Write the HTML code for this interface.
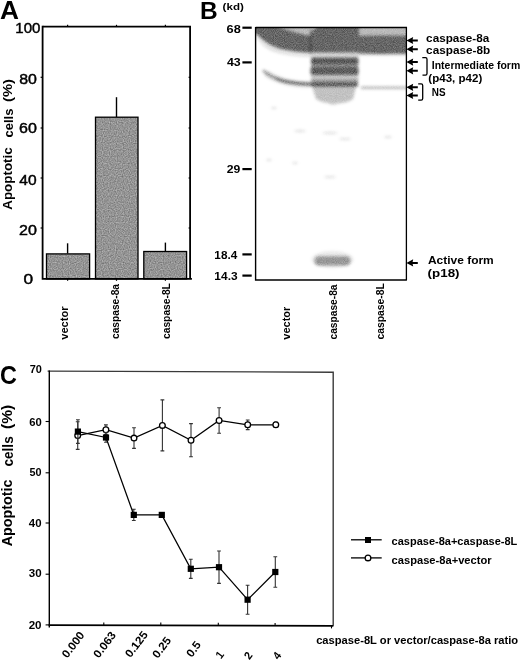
<!DOCTYPE html>
<html><head><meta charset="utf-8">
<style>
html,body{margin:0;padding:0;background:#fff;width:520px;height:661px;overflow:hidden}
svg{display:block;will-change:transform}
text{font-family:"Liberation Sans",sans-serif;fill:#000}
.b{font-weight:bold}
.r{stroke:#000;stroke-width:0.45px}
</style></head><body>
<svg width="520" height="661" viewBox="0 0 520 661">
<defs>
<filter id="gelf" color-interpolation-filters="sRGB" x="248" y="20" width="166" height="264" filterUnits="userSpaceOnUse">
<feGaussianBlur in="SourceGraphic" stdDeviation="1.4" result="b"/>
<feTurbulence type="fractalNoise" baseFrequency="1.1" numOctaves="1" seed="5" result="t"/>
<feColorMatrix in="t" type="matrix" values="0 0 0 0 0  0 0 0 0 0  0 0 0 0 0  0 0 0 1.3 -0.15" result="tn"/>
<feComposite in="b" in2="tn" operator="arithmetic" k1="0.5" k2="0.75" k3="0" k4="0"/>
</filter>

<clipPath id="gelclip"><rect x="255.6" y="27.5" width="150.8" height="252.5"/></clipPath>

<filter id="barn" color-interpolation-filters="sRGB" x="40" y="110" width="155" height="175" filterUnits="userSpaceOnUse">
<feTurbulence type="fractalNoise" baseFrequency="0.85" numOctaves="1" seed="11" result="t"/>
<feColorMatrix in="t" type="matrix" values="0 0 0 0.45 0.355  0 0 0 0.45 0.355  0 0 0 0.45 0.355  0 0 0 0 1" result="g"/>
<feComposite in="g" in2="SourceGraphic" operator="in"/>
</filter>
</defs>

<!-- ================= PANEL A ================= -->
<g fill="#939393" filter="url(#barn)">
<rect x="46.5" y="253.9" width="43.1" height="25"/>
<rect x="95.5" y="117.2" width="42.5" height="161.7"/>
<rect x="143.8" y="251.5" width="42.8" height="27.4"/>
</g>
<g stroke="#000" stroke-width="1.3" fill="none">
<rect x="46.5" y="253.9" width="43.1" height="25"/>
<rect x="95.5" y="117.2" width="42.5" height="161.7"/>
<rect x="143.8" y="251.5" width="42.8" height="27.4"/>
</g>
<g stroke="#000" stroke-width="1.4">
<line x1="67.6" y1="253.5" x2="67.6" y2="243.3"/>
<line x1="116.5" y1="117" x2="116.5" y2="97.2"/>
<line x1="165.4" y1="251" x2="165.4" y2="242.6"/>
</g>
<path d="M42.6 26.6 H190.1 V279" fill="none" stroke="#000" stroke-width="1.8"/>
<path d="M42.6 25.8 V278.9 H191.9" fill="none" stroke="#000" stroke-width="1.8"/>
<g stroke="#000" stroke-width="1.2">
<line x1="40.6" y1="77.3" x2="42.6" y2="77.3"/>
<line x1="40.6" y1="128" x2="42.6" y2="128"/>
<line x1="40.6" y1="178" x2="42.6" y2="178"/>
<line x1="40.6" y1="228" x2="42.6" y2="228"/>
<line x1="190.1" y1="77.3" x2="188.6" y2="77.3"/>
<line x1="190.1" y1="128" x2="188.6" y2="128"/>
<line x1="190.1" y1="178" x2="188.6" y2="178"/>
<line x1="190.1" y1="228" x2="188.6" y2="228"/>
<line x1="67.6" y1="26.6" x2="67.6" y2="24.8"/>
<line x1="116.5" y1="26.6" x2="116.5" y2="24.8"/>
<line x1="165.4" y1="26.6" x2="165.4" y2="24.8"/>
<line x1="67.6" y1="278.9" x2="67.6" y2="280.8"/>
<line x1="116.5" y1="278.9" x2="116.5" y2="280.8"/>
<line x1="165.4" y1="278.9" x2="165.4" y2="280.8"/>
</g>

<!-- ================= PANEL B ================= -->
<g stroke="#000" stroke-width="2.2">
<line x1="242.4" y1="27.7" x2="251.7" y2="27.7"/>
<line x1="242.4" y1="62.4" x2="251.7" y2="62.4"/>
<line x1="242.4" y1="169.1" x2="251.7" y2="169.1"/>
<line x1="242.4" y1="254.4" x2="251.7" y2="254.4"/>
<line x1="242.4" y1="275.6" x2="251.7" y2="275.6"/>
</g>
<g clip-path="url(#gelclip)"><g id="gel" filter="url(#gelf)">
<rect x="256" y="28" width="150" height="252" fill="#fff" fill-opacity="0.004"/>
<!-- lane 1 top: light top haze (right part) -->
<path d="M262 22 H311 V38 C296 34 280 29 262 22 Z" fill="#000" fill-opacity="0.27"/>
<!-- lane 1 dark curved band -->
<path d="M250 22 H264 C280 28.5 296 33.5 311 36.5 V53 C300 52.5 290 51.5 280 49 C272 46.5 265 42.5 260 37.5 C256 34 253 31 250 29 Z" fill="#000" fill-opacity="0.6"/>
<path d="M257 36 C263 43 272 48.5 285 51.5 C295 53.5 305 54.5 311 54.5 L311 57 C300 57 285 55.5 273 51.5 C265 48.5 260 43 257 38 Z" fill="#000" fill-opacity="0.12"/>
<!-- lane 1 NS curved band -->
<path d="M263 70.3 C268 75 277 79.5 287 81.8 C295 83.5 303 84.2 312 84.2" fill="none" stroke="#000" stroke-opacity="0.42" stroke-width="2.5"/>
<path d="M276 78.3 C280 80.2 283 81 287 81.8 C295 83.5 303 84.2 312 84.2" fill="none" stroke="#000" stroke-opacity="0.35" stroke-width="2.4"/>
<path d="M266 73 C278 81.5 292 84.5 310 84.5" fill="none" stroke="#000" stroke-opacity="0.1" stroke-width="7"/>
<!-- lane 2 -->
<path d="M316 22 H359 V52.5 H310 V34 C311 31 313 29 316 28 Z" fill="#000" fill-opacity="0.6"/>
<path d="M310 28 H316 C313 29 311 31 310 34 Z" fill="#000" fill-opacity="0.3"/>
<rect x="310" y="52" width="49" height="5" fill="#000" fill-opacity="0.15"/>
<rect x="311" y="57.5" width="47.5" height="7" rx="2" fill="#000" fill-opacity="0.66"/>
<rect x="311" y="64.5" width="47.5" height="2.5" fill="#000" fill-opacity="0.42"/>
<rect x="310.5" y="67" width="48" height="8" rx="2" fill="#000" fill-opacity="0.64"/>
<rect x="311" y="75" width="47.5" height="4.2" fill="#000" fill-opacity="0.2"/>
<rect x="311" y="79.2" width="47" height="4" fill="#000" fill-opacity="0.42"/>
<rect x="311" y="83" width="47" height="3.5" rx="1.5" fill="#000" fill-opacity="0.68"/>
<path d="M312 86.5 H356 L353 99 C345 105 325 105 316 99 Z" fill="#000" fill-opacity="0.24"/>
<rect x="314.5" y="256.3" width="36" height="9.2" rx="4.5" fill="#000" fill-opacity="0.36"/>
<ellipse cx="332.5" cy="259.5" rx="21" ry="8.5" fill="#000" fill-opacity="0.08"/>
<!-- lane 3 -->
<rect x="359" y="22" width="53" height="14.5" fill="#000" fill-opacity="0.27"/>
<path d="M359 36 C375 35.5 392 35.5 412 36 V53.5 C392 54 375 54 359 53.5 Z" fill="#000" fill-opacity="0.6"/>
<rect x="359" y="53" width="53" height="3" fill="#000" fill-opacity="0.08"/>
<path d="M361 87.8 H410" stroke="#000" stroke-opacity="0.28" stroke-width="2.6"/>
<!-- specks -->
<g fill="#000" fill-opacity="0.1">
<ellipse cx="274" cy="108" rx="3" ry="1.2"/>
<ellipse cx="300" cy="131" rx="6" ry="1.5"/>
<ellipse cx="330" cy="133" rx="8" ry="1.5"/>
<ellipse cx="345" cy="139" rx="6" ry="1.3"/>
<ellipse cx="388" cy="137" rx="4" ry="1.3"/>
<ellipse cx="269" cy="160" rx="3" ry="1.2"/>
<ellipse cx="295" cy="163" rx="3" ry="1.2"/>
<ellipse cx="330" cy="177" rx="6" ry="1.3"/>
<ellipse cx="333" cy="104" rx="4" ry="1"/>
</g>
</g></g>

<path d="M255.6 27.5 H406.4 V280" fill="none" stroke="#000" stroke-width="1.3"/>
<path d="M255.6 27 V280 H406.9" fill="none" stroke="#000" stroke-width="1.4"/>
<g fill="#000">
<path d="M406.40 40.50 L413.20 36.90 L412.60 39.50 H417.80 V41.50 H412.60 L413.20 44.10 Z"/>
<path d="M406.40 49.20 L413.20 45.60 L412.60 48.20 H417.80 V50.20 H412.60 L413.20 52.80 Z"/>
<path d="M406.40 62.10 L413.20 58.50 L412.60 61.10 H417.80 V63.10 H412.60 L413.20 65.70 Z"/>
<path d="M406.40 70.80 L413.20 67.20 L412.60 69.80 H417.80 V71.80 H412.60 L413.20 74.40 Z"/>
<path d="M406.40 87.30 L413.20 83.70 L412.60 86.30 H417.80 V88.30 H412.60 L413.20 90.90 Z"/>
<path d="M406.40 95.50 L413.20 91.90 L412.60 94.50 H417.80 V96.50 H412.60 L413.20 99.10 Z"/>
<path d="M406.40 262.90 L413.20 259.30 L412.60 261.90 H417.80 V263.90 H412.60 L413.20 266.50 Z"/>
</g>
<path d="M422.3 57.6 H425.5 Q427 57.6 427 59.2 V73.6 Q427 75.2 425.5 75.2 H422.5" fill="none" stroke="#000" stroke-width="1.3"/>
<path d="M418.2 83.9 H421.2 Q422.7 83.9 422.7 85.5 V98.5 Q422.7 100.1 421.2 100.1 H418.2" fill="none" stroke="#000" stroke-width="1.3"/>

<!-- ================= PANEL C ================= -->
<path d="M47.6 371.1 L333.2 372.2 V625.8" fill="none" stroke="#3a3a3a" stroke-width="1.4"/>
<path d="M49.3 370.4 V627.6" fill="none" stroke="#000" stroke-width="1.4"/>
<path d="M48.6 625.1 L333.4 625.8" fill="none" stroke="#000" stroke-width="1.8"/>
<g stroke="#000" stroke-width="1.1">
<line x1="45.6" y1="421.5" x2="49" y2="421.5"/>
<line x1="45.6" y1="472.8" x2="49" y2="472.8"/>
<line x1="45.6" y1="523" x2="49" y2="523"/>
<line x1="45.6" y1="574.2" x2="49" y2="574.2"/>
<line x1="45.6" y1="624.9" x2="49" y2="624.9"/>
<line x1="103.8" y1="625" x2="103.8" y2="622.4"/>
<line x1="160.8" y1="625.2" x2="160.8" y2="622.6"/>
<line x1="218.3" y1="625.4" x2="218.3" y2="622.8"/>
<line x1="275.1" y1="625.5" x2="275.1" y2="622.9"/>
<line x1="331.5" y1="625.8" x2="331.5" y2="628.4"/>
</g>
<path d="M77.7 421.8 V449.4 M75.8 421.8 h3.8 M75.8 449.4 h3.8 M105.9 424.9 V434.5 M104.0 424.9 h3.8 M104.0 434.5 h3.8 M134.0 427.8 V448.4 M132.1 427.8 h3.8 M132.1 448.4 h3.8 M162.4 399.9 V450.9 M160.5 399.9 h3.8 M160.5 450.9 h3.8 M191.0 423.6 V456.8 M189.1 423.6 h3.8 M189.1 456.8 h3.8 M219.1 407.8 V433.2 M217.2 407.8 h3.8 M217.2 433.2 h3.8 M247.7 420.0 V429.6 M245.8 420.0 h3.8 M245.8 429.6 h3.8 M275.8 422.3 V427.3 M273.9 422.3 h3.8 M273.9 427.3 h3.8" stroke="#333" stroke-width="1.1" fill="none"/>
<polyline points="77.7,435.6 105.9,429.7 134.0,438.1 162.4,425.4 191,440.2 219.1,420.5 247.7,424.8 275.8,424.8" fill="none" stroke="#000" stroke-width="1.25"/>
<g fill="#fff" stroke="#000" stroke-width="1.3">
<circle cx="77.7" cy="435.6" r="2.85"/>
<circle cx="105.9" cy="429.7" r="2.85"/>
<circle cx="134.0" cy="438.1" r="2.85"/>
<circle cx="162.4" cy="425.4" r="2.85"/>
<circle cx="191" cy="440.2" r="2.85"/>
<circle cx="219.1" cy="420.5" r="2.85"/>
<circle cx="247.7" cy="424.8" r="2.85"/>
<circle cx="275.8" cy="424.8" r="2.85"/>
</g>
<path d="M77.9 419.8 V443.4 M76.0 419.8 h3.8 M76.0 443.4 h3.8 M106.0 432.8 V442.2 M104.1 432.8 h3.8 M104.1 442.2 h3.8 M133.8 509.3 V520.5 M131.9 509.3 h3.8 M131.9 520.5 h3.8 M190.8 559.2 V578.4 M188.9 559.2 h3.8 M188.9 578.4 h3.8 M219.0 551.0 V583.4 M217.1 551.0 h3.8 M217.1 583.4 h3.8 M247.6 585.2 V614.2 M245.7 585.2 h3.8 M245.7 614.2 h3.8 M275.3 556.8 V587.2 M273.4 556.8 h3.8 M273.4 587.2 h3.8" stroke="#333" stroke-width="1.1" fill="none"/>
<polyline points="77.9,431.6 106,437.5 133.8,514.9 161.8,514.9 190.8,568.8 219,567.2 247.6,599.7 275.3,572" fill="none" stroke="#000" stroke-width="1.25"/>
<g fill="#000">
<rect x="74.80" y="428.50" width="6.2" height="6.2"/>
<rect x="102.90" y="434.40" width="6.2" height="6.2"/>
<rect x="130.70" y="511.80" width="6.2" height="6.2"/>
<rect x="158.70" y="511.80" width="6.2" height="6.2"/>
<rect x="187.70" y="565.70" width="6.2" height="6.2"/>
<rect x="215.90" y="564.10" width="6.2" height="6.2"/>
<rect x="244.50" y="596.60" width="6.2" height="6.2"/>
<rect x="272.20" y="568.90" width="6.2" height="6.2"/>
</g>
<line x1="351" y1="539.8" x2="381.7" y2="539.8" stroke="#000" stroke-width="1.3"/>
<rect x="365" y="537" width="6" height="6" fill="#000"/>
<line x1="351" y1="557.9" x2="381.7" y2="557.9" stroke="#000" stroke-width="1.3"/>
<circle cx="368" cy="557.9" r="2.85" fill="#fff" stroke="#000" stroke-width="1.3"/>

<!-- ================= TEXT ================= -->
<text class="b" x="0.11" y="18.87" font-size="25.9" textLength="18.98" lengthAdjust="spacingAndGlyphs">A</text>
<text class="r" x="15.30" y="32.60" font-size="14.5" textLength="25.08" lengthAdjust="spacingAndGlyphs">100</text>
<text class="r" x="19.16" y="84.10" font-size="14.5" textLength="17.71" lengthAdjust="spacingAndGlyphs">80</text>
<text class="r" x="19.00" y="133.00" font-size="14.5" textLength="17.88" lengthAdjust="spacingAndGlyphs">60</text>
<text class="r" x="19.39" y="184.50" font-size="14.5" textLength="17.27" lengthAdjust="spacingAndGlyphs">40</text>
<text class="r" x="19.00" y="235.30" font-size="14.5" textLength="17.88" lengthAdjust="spacingAndGlyphs">20</text>
<text class="r" x="23.51" y="284.45" font-size="14.5" textLength="9.62" lengthAdjust="spacingAndGlyphs">0</text>
<text class="b" transform="translate(12.01,209.70) rotate(-90)" font-size="13.3" textLength="62.34" lengthAdjust="spacingAndGlyphs">Apoptotic</text>
<text class="b" transform="translate(12.74,137.52) rotate(-90)" font-size="13.3" textLength="28.89" lengthAdjust="spacingAndGlyphs">cells</text>
<text class="b" transform="translate(11.71,101.99) rotate(-90)" font-size="13.3" textLength="22.96" lengthAdjust="spacingAndGlyphs">(%)</text>
<text class="b" transform="translate(68.18,339.71) rotate(-90)" font-size="10.4" textLength="33.24" lengthAdjust="spacingAndGlyphs">vector</text>
<text class="b" transform="translate(118.65,339.01) rotate(-90)" font-size="10.4" textLength="55.04" lengthAdjust="spacingAndGlyphs">caspase-8a</text>
<text class="b" transform="translate(169.90,339.01) rotate(-90)" font-size="10.4" textLength="55.90" lengthAdjust="spacingAndGlyphs">caspase-8L</text>
<text class="b" x="200.08" y="18.74" font-size="24.4" textLength="17.70" lengthAdjust="spacingAndGlyphs">B</text>
<text class="b" x="222.62" y="9.97" font-size="9.7" textLength="21.19" lengthAdjust="spacingAndGlyphs">(kd)</text>
<text class="b" x="226.59" y="32.55" font-size="11" textLength="14.23" lengthAdjust="spacingAndGlyphs">68</text>
<text class="b" x="226.95" y="66.34" font-size="11" textLength="13.77" lengthAdjust="spacingAndGlyphs">43</text>
<text class="b" x="226.73" y="172.84" font-size="11" textLength="13.58" lengthAdjust="spacingAndGlyphs">29</text>
<text class="b" x="214.39" y="258.50" font-size="11" textLength="22.88" lengthAdjust="spacingAndGlyphs">18.4</text>
<text class="b" x="214.38" y="279.75" font-size="11" textLength="23.25" lengthAdjust="spacingAndGlyphs">14.3</text>
<text class="b" x="426.13" y="41.94" font-size="11.2" textLength="63.19" lengthAdjust="spacingAndGlyphs">caspase-8a</text>
<text class="b" x="426.13" y="53.71" font-size="11.2" textLength="64.01" lengthAdjust="spacingAndGlyphs">caspase-8b</text>
<text class="b" x="431.77" y="68.67" font-size="10.2" textLength="88.43" lengthAdjust="spacingAndGlyphs">Intermediate form</text>
<text class="b" x="428.32" y="82.33" font-size="11" textLength="53.93" lengthAdjust="spacingAndGlyphs">(p43, p42)</text>
<text class="b" x="431.81" y="96.32" font-size="10.2" textLength="13.78" lengthAdjust="spacingAndGlyphs">NS</text>
<text class="b" x="427.94" y="264.39" font-size="11.5" textLength="65.80" lengthAdjust="spacingAndGlyphs">Active form</text>
<text class="b" x="427.63" y="277.19" font-size="11.5" textLength="31.93" lengthAdjust="spacingAndGlyphs">(p18)</text>
<text class="b" transform="translate(290.18,339.71) rotate(-90)" font-size="10.4" textLength="33.04" lengthAdjust="spacingAndGlyphs">vector</text>
<text class="b" transform="translate(336.95,339.51) rotate(-90)" font-size="10.4" textLength="55.04" lengthAdjust="spacingAndGlyphs">caspase-8a</text>
<text class="b" transform="translate(383.65,339.51) rotate(-90)" font-size="10.4" textLength="56.40" lengthAdjust="spacingAndGlyphs">caspase-8L</text>
<text class="b" x="-0.04" y="383.77" font-size="26.0" textLength="16.89" lengthAdjust="spacingAndGlyphs">C</text>
<text class="b" x="29.66" y="373.40" font-size="10.3" textLength="12.20" lengthAdjust="spacingAndGlyphs">70</text>
<text class="b" x="29.20" y="425.85" font-size="10.3" textLength="12.58" lengthAdjust="spacingAndGlyphs">60</text>
<text class="b" x="29.57" y="476.25" font-size="10.3" textLength="12.09" lengthAdjust="spacingAndGlyphs">50</text>
<text class="b" x="28.87" y="527.35" font-size="10.3" textLength="12.71" lengthAdjust="spacingAndGlyphs">40</text>
<text class="b" x="28.72" y="576.90" font-size="10.3" textLength="12.87" lengthAdjust="spacingAndGlyphs">30</text>
<text class="b" x="28.65" y="628.65" font-size="10.3" textLength="12.94" lengthAdjust="spacingAndGlyphs">20</text>
<text class="b" transform="translate(12.14,546.23) rotate(-90)" font-size="14.2" textLength="66.80" lengthAdjust="spacingAndGlyphs">Apoptotic</text>
<text class="b" transform="translate(13.46,466.54) rotate(-90)" font-size="14.2" textLength="30.25" lengthAdjust="spacingAndGlyphs">cells</text>
<text class="b" transform="translate(11.84,428.88) rotate(-90)" font-size="14.2" textLength="24.18" lengthAdjust="spacingAndGlyphs">(%)</text>
<text class="b" x="391.56" y="545.00" font-size="10.6" textLength="125.81" lengthAdjust="spacingAndGlyphs">caspase-8a+caspase-8L</text>
<text class="b" x="391.55" y="563.65" font-size="10.6" textLength="100.05" lengthAdjust="spacingAndGlyphs">caspase-8a+vector</text>
<text class="b" x="316.15" y="644.36" font-size="10.6" textLength="202.02" lengthAdjust="spacingAndGlyphs">caspase-8L or vector/caspase-8a ratio</text>
<text class="b" transform="translate(67.28,658.78) rotate(-53)" font-size="11.3" textLength="29.55" lengthAdjust="spacingAndGlyphs">0.000</text>
<text class="b" transform="translate(98.79,658.83) rotate(-53)" font-size="11.3" textLength="29.55" lengthAdjust="spacingAndGlyphs">0.063</text>
<text class="b" transform="translate(130.61,658.28) rotate(-53)" font-size="11.3" textLength="29.55" lengthAdjust="spacingAndGlyphs">0.125</text>
<text class="b" transform="translate(157.85,658.94) rotate(-53)" font-size="11.3" textLength="22.98" lengthAdjust="spacingAndGlyphs">0.25</text>
<text class="b" transform="translate(191.69,657.90) rotate(-53)" font-size="11.3" textLength="16.42" lengthAdjust="spacingAndGlyphs">0.5</text>
<text class="b" transform="translate(221.01,659.38) rotate(-53)" font-size="11.3" textLength="5.97" lengthAdjust="spacingAndGlyphs">1</text>
<text class="b" transform="translate(249.58,660.24) rotate(-53)" font-size="11.3" textLength="5.97" lengthAdjust="spacingAndGlyphs">2</text>
<text class="b" transform="translate(278.17,660.29) rotate(-53)" font-size="11.3" textLength="5.97" lengthAdjust="spacingAndGlyphs">4</text>
</svg>
</body></html>
